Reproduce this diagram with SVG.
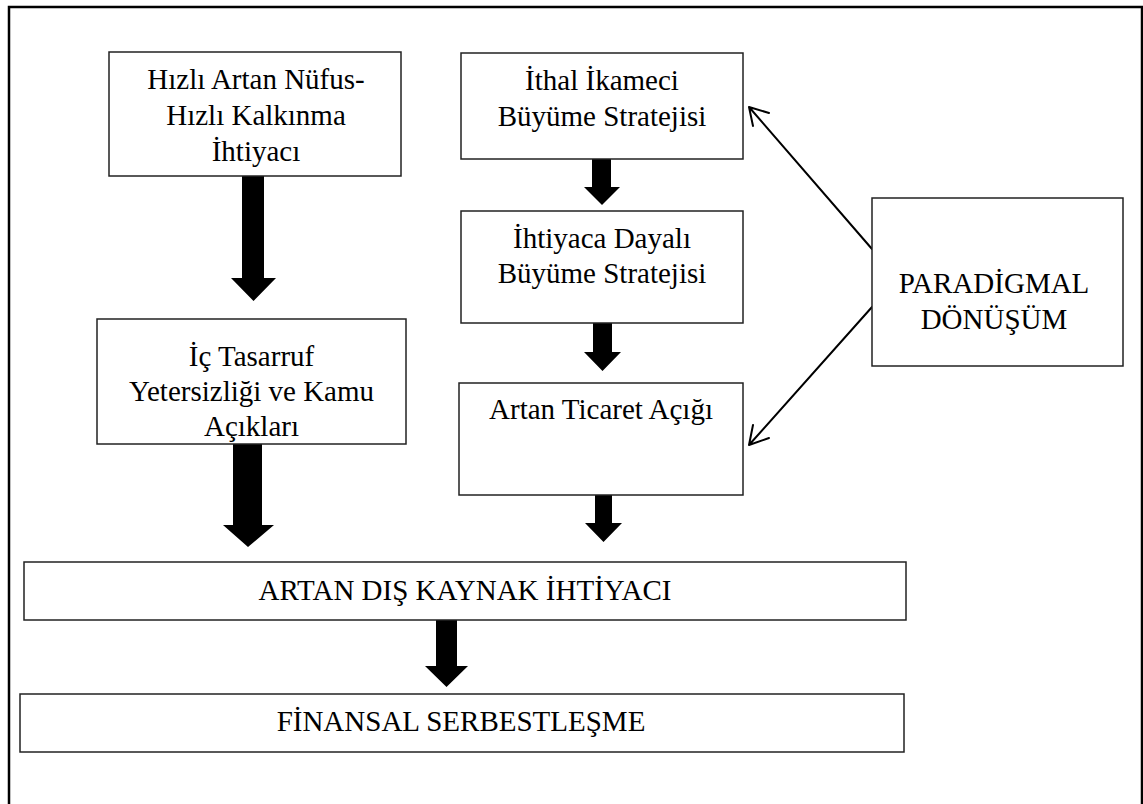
<svg xmlns="http://www.w3.org/2000/svg" width="1143" height="804" viewBox="0 0 1143 804">
<style>
.box{fill:#fff;stroke:#222;stroke-width:1.5}
.t{font-family:"Liberation Serif","Times New Roman",serif;font-size:29px;fill:#000;text-anchor:middle}
.fat{fill:#000;stroke:none}
.thin{fill:none;stroke:#000;stroke-width:2;stroke-linecap:round;stroke-linejoin:round}
</style>
<rect x="0" y="0" width="1143" height="804" fill="#fff"/>
<rect x="9" y="7" width="1133" height="830" fill="none" stroke="#000" stroke-width="2.5"/>
<g id="connectors">
<polygon class="fat" points="242,176 264,176 264,278 276,278 253.5,301 231,278 242,278"/>
<polygon class="fat" points="233,444 262,444 262,525 274,525 248,547 223,525 233,525"/>
<polygon class="fat" points="592,159 611,159 611,187 620,187 602,205 584,187 592,187"/>
<polygon class="fat" points="593,323 612,323 612,352 621,352 602.5,371 584,352 593,352"/>
<polygon class="fat" points="595,495 612,495 612,523 622,523 603.5,542 585,523 595,523"/>
<polygon class="fat" points="436,620 457,620 457,666 468,666 446.5,687 425,666 436,666"/>
<path class="thin" d="M872,249 L749,107 M769,113 L749,107 L753,126"/>
<path class="thin" d="M872,307 L749,445 M769,438 L749,445 L753,425"/>
</g>
<g id="n1"><rect class="box" x="109" y="52" width="292" height="124"/>
<text class="t" x="256" y="89">Hızlı Artan Nüfus-</text>
<text class="t" x="256" y="125">Hızlı Kalkınma</text>
<text class="t" x="256" y="161">İhtiyacı</text></g>
<g id="n2"><rect class="box" x="97" y="319" width="309" height="125"/>
<text class="t" x="251.5" y="366">İç Tasarruf</text>
<text class="t" x="251.5" y="401">Yetersizliği ve Kamu</text>
<text class="t" x="251.5" y="436">Açıkları</text></g>
<g id="n3"><rect class="box" x="461" y="53" width="282" height="106"/>
<text class="t" x="602" y="90">İthal İkameci</text>
<text class="t" x="602" y="126">Büyüme Stratejisi</text></g>
<g id="n4"><rect class="box" x="461" y="211" width="282" height="112"/>
<text class="t" x="602" y="248">İhtiyaca Dayalı</text>
<text class="t" x="602" y="283">Büyüme Stratejisi</text></g>
<g id="n5"><rect class="box" x="459" y="383" width="284" height="112"/>
<text class="t" x="601" y="419">Artan Ticaret Açığı</text></g>
<g id="n6"><rect class="box" x="872" y="198" width="251" height="168"/>
<text class="t" x="994" y="293">PARADİGMAL</text>
<text class="t" x="994" y="329">DÖNÜŞÜM</text></g>
<g id="n7"><rect class="box" x="24" y="562" width="882" height="58"/>
<text class="t" x="465" y="600">ARTAN DIŞ KAYNAK İHTİYACI</text></g>
<g id="n8"><rect class="box" x="20" y="694" width="884" height="58"/>
<text class="t" x="461" y="731">FİNANSAL SERBESTLEŞME</text></g>
</svg>
